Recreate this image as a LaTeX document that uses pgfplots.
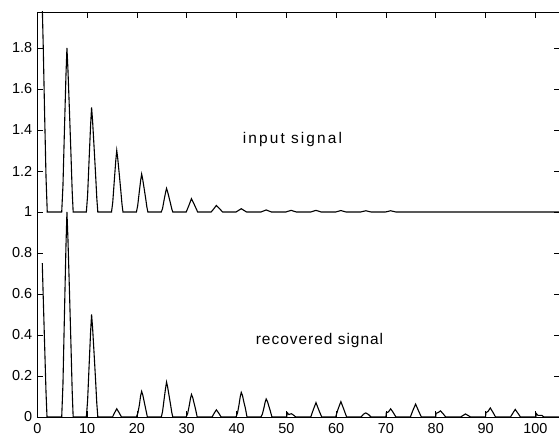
\documentclass[border=0pt]{standalone}
\usepackage{fontspec}
\setmainfont{Liberation Sans}
\newfontfamily\lblA[LetterSpace=13.5]{Liberation Sans}
\newfontfamily\lblB[LetterSpace=6.5]{Liberation Sans}
\usepackage{pgfplots}
\pgfplotsset{compat=1.18}
\begin{document}
\begin{tikzpicture}
\begin{axis}[
  scale only axis, width=523bp, height=405bp,
  xmin=0, xmax=105, ymin=0, ymax=1.9756,
  xtick={0,10,20,30,40,50,60,70,80,90,100},
  xticklabels={0,10,20,30,40,50,60,70,80,90,100},
  ytick={0,0.2,0.4,0.6,0.8,1,1.2,1.4,1.6,1.8},
  yticklabels={0,0.2,0.4,0.6,0.8,1,1.2,1.4,1.6,1.8},
  tick align=inside, tick pos=both,
  major tick length=6bp,
  tick style={black, line width=0.8bp},
  axis line style={line width=0.8bp},
  tick label style={font=\fontsize{14.5}{16}\selectfont},
  yticklabel style={xshift=-1.5bp},
  xticklabel style={yshift=-3bp},
  /pgf/number format/assume math mode=true,
]
% input signal (baseline 1)
\addplot[black, line width=1.1bp] coordinates {
(1.0,2.0) (1.2,1.8) (1.45,1.5) (1.75,1.17) (2.0,1.0)
(4.9,1) (5.15,1.128) (5.45,1.4) (5.75,1.664) (5.95,1.8) (6.15,1.696) (6.45,1.496) (6.75,1.288) (7.0,1.104) (7.2,1)
(9.85,1) (10.1,1.082) (10.4,1.255) (10.7,1.423) (10.9,1.51) (11.1,1.444) (11.4,1.316) (11.7,1.184) (11.95,1.066) (12.15,1)
(14.9,1) (15.15,1.048) (15.45,1.15) (15.75,1.249) (15.95,1.3) (16.15,1.261) (16.45,1.186) (16.75,1.108) (17.0,1.039) (17.2,1)
(19.9,1) (20.15,1.03) (20.45,1.093) (20.75,1.154) (20.95,1.185) (21.15,1.161) (21.45,1.115) (21.75,1.067) (22.0,1.024) (22.2,1)
(24.9,1) (25.15,1.018) (25.45,1.058) (25.75,1.095) (25.95,1.115) (26.15,1.1) (26.45,1.071) (26.75,1.041) (27.0,1.015) (27.2,1)
(29.9,1) (30.45,1.033) (30.95,1.065) (31.45,1.04) (32.2,1)
(34.9,1) (35.45,1.016) (35.95,1.032) (36.45,1.02) (37.2,1)
(39.9,1) (40.95,1.016) (42.0,1)
(44.9,1) (45.95,1.01) (47.0,1)
(49.9,1) (50.95,1.008) (52.0,1)
(54.9,1) (55.95,1.008) (57.0,1)
(59.9,1) (60.95,1.007) (62.0,1)
(64.9,1) (65.95,1.006) (67.0,1)
(69.9,1) (70.95,1.006) (72.0,1)
(105,1)
};
% recovered signal (baseline 0)
\addplot[black, line width=1.1bp] coordinates {
(1.0,0.75) (1.15,0.62) (1.45,0.37) (1.75,0.12) (1.95,0)
(4.9,0) (5.15,0.16) (5.45,0.5) (5.75,0.83) (5.95,1.0) (6.15,0.87) (6.45,0.62) (6.75,0.36) (7.0,0.13) (7.2,0)
(9.85,0) (10.1,0.08) (10.4,0.25) (10.7,0.415) (10.9,0.5) (11.1,0.435) (11.4,0.31) (11.7,0.18) (11.95,0.065) (12.15,0)
(15.1,0) (15.5,0.02) (15.95,0.04) (16.45,0.02) (16.9,0)
(19.9,0) (20.2,0.02) (20.5,0.06) (20.75,0.105) (20.95,0.125) (21.2,0.105) (21.5,0.07) (21.8,0.035) (22.1,0)
(24.9,0) (25.15,0.027) (25.45,0.085) (25.75,0.14) (25.95,0.17) (26.15,0.148) (26.45,0.105) (26.75,0.061) (27.0,0.022) (27.2,0)
(29.9,0) (30.2,0.018) (30.5,0.055) (30.75,0.09) (30.95,0.11) (31.2,0.095) (31.5,0.065) (31.8,0.035) (32.1,0)
(35.1,0) (35.5,0.018) (35.95,0.035) (36.45,0.018) (36.9,0)
(39.9,0) (40.2,0.02) (40.5,0.06) (40.75,0.1) (40.95,0.12) (41.2,0.104) (41.5,0.07) (41.8,0.04) (42.1,0)
(44.9,0) (45.2,0.015) (45.5,0.045) (45.75,0.073) (45.95,0.088) (46.2,0.076) (46.5,0.052) (46.8,0.028) (47.1,0)
(50.1,0) (50.15,0.022) (50.5,0.012) (51.0,0.016) (51.4,0.01) (51.9,0)
(54.9,0) (55.4,0.035) (55.95,0.07) (56.5,0.035) (57.1,0)
(59.9,0) (60.4,0.04) (60.95,0.075) (61.5,0.04) (62.1,0)
(65.0,0) (65.5,0.014) (65.95,0.02) (66.5,0.012) (67.0,0)
(70.0,0) (70.05,0.02) (70.5,0.025) (70.95,0.04) (71.5,0.02) (72.0,0)
(74.9,0) (75.4,0.032) (75.95,0.063) (76.5,0.032) (77.1,0)
(80.0,0) (80.05,0.018) (80.5,0.022) (80.95,0.03) (81.5,0.015) (82.0,0)
(85.0,0) (85.95,0.015) (87.0,0)
(90.0,0) (90.05,0.02) (90.5,0.028) (90.95,0.044) (91.5,0.022) (92.0,0)
(95.0,0) (95.45,0.018) (95.95,0.037) (96.5,0.018) (97.0,0)
(100.1,0) (100.15,0.018) (100.5,0.008) (101.3,0.008) (101.7,0)
(105,0)
};
\node[font=\lblA\fontsize{15.5}{17}\selectfont] at (axis cs:51.23,1.353) {input signal};
\node[font=\lblB\fontsize{15.5}{17}\selectfont] at (axis cs:56.66,0.374) {recovered signal};
\end{axis}
\pgfresetboundingbox
\useasboundingbox (-37.3bp,-24bp) rectangle (521.7bp,417bp);
\end{tikzpicture}
\end{document}
